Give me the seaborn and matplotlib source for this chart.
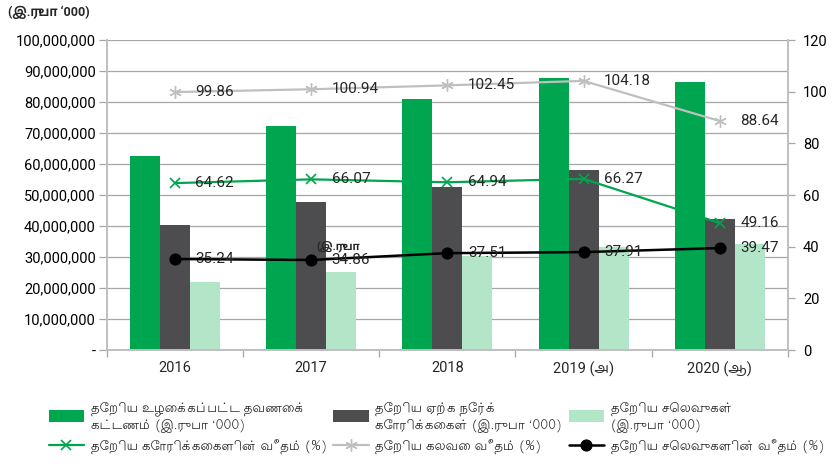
import numpy as np
import pandas as pd
import matplotlib
matplotlib.use("Agg")
import matplotlib.pyplot as plt
from matplotlib.ticker import FuncFormatter, MultipleLocator, FixedLocator
import seaborn as sns

# values (Rs '000)
years = ["2016", "2017", "2018", "2019 (அ)", "2020 (ஆ)"]
net_premium = [62600000, 72300000, 80900000, 87600000, 86300000]
net_claims = [40450000, 47770000, 52540000, 58050000, 42420000]
net_expenses = [22060000, 25200000, 30350000, 33210000, 34060000]

claims_ratio = [64.62, 66.07, 64.94, 66.27, 49.16]
combined_ratio = [99.86, 100.94, 102.45, 104.18, 88.64]
expense_ratio = [35.24, 34.86, 37.51, 37.91, 39.47]

bar_labels = [
    "தேறிய உழைக்கப்பட்ட தவணைக்\nகட்டணம் (இ.ருபா ‘000)",
    "தேறிய ஏற்க நேர்க்\nகோரிக்கைகள் (இ.ருபா ‘000)",
    "தேறிய செலவுகள்\n(இ.ருபா ‘000)",
]
line_labels = [
    "தேறிய கோரிக்கைகளின் வீதம் (%)",
    "தேறிய கலவை வீதம் (%)",
    "தேறிய செலவுகளின் வீதம் (%)",
]
bar_colors = ["#00a64f", "#4d4d4f", "#b3e5c9"]
line_colors = ["#00a64f", "#bfbfbf", "#000000"]

sns.set_theme(style="white")
plt.rcParams["font.family"] = ["Roboto", "Hind Madurai", "DejaVu Sans"]
tamil_font = ["Lohit Tamil", "FreeSerif", "DejaVu Sans"]

df = pd.DataFrame({
    "year": years * 3,
    "value": net_premium + net_claims + net_expenses,
    "series": [bar_labels[0]] * 5 + [bar_labels[1]] * 5 + [bar_labels[2]] * 5,
})

fig = plt.figure(figsize=(8.39, 4.68), dpi=100)
ax = fig.add_axes([0.1275, 0.252, 0.8115, 0.6625])

sns.barplot(data=df, x="year", y="value", hue="series", hue_order=bar_labels,
            palette=bar_colors, width=0.66, saturation=1, ax=ax, linewidth=0)

ax.set_ylim(0, 100000000)
ax.set_xlim(-0.5, 4.5)
ax.yaxis.set_major_locator(MultipleLocator(10000000))
ax.yaxis.set_major_formatter(FuncFormatter(lambda v, p: "-" if v == 0 else f"{v:,.0f}"))
ax.grid(axis="y", color="#a6a6a6", linewidth=0.9)
ax.set_axisbelow(True)
ax.set_xlabel("")
ax.set_ylabel("")
ax.tick_params(axis="y", labelsize=10.5, colors="#a6a6a6", labelcolor="black",
               length=6, width=0.9, left=True, pad=2)
ax.tick_params(axis="x", labelsize=10.5, length=0, pad=8)
ax.xaxis.set_minor_locator(FixedLocator(np.arange(-0.5, 5, 1)))
ax.tick_params(axis="x", which="minor", length=5, width=0.9, color="#a6a6a6", bottom=True)
for side in ["left", "bottom", "right"]:
    ax.spines[side].set_color("#bfbfbf")
    ax.spines[side].set_linewidth(1.2)
ax.spines["top"].set_visible(False)

handles, labels = ax.get_legend_handles_labels()
ax.get_legend().remove()

# ratios on the right axis
ax2 = ax.twinx()
pos = np.arange(len(years))
line_styles = [
    dict(marker="x", markersize=7, markeredgewidth=1.2, linewidth=1.6),
    dict(marker=(6, 2, 0), markersize=9, markeredgewidth=1.0, linewidth=1.6),
    dict(marker="o", markersize=8, linewidth=1.8),
]
for vals, lab, col, st in zip([claims_ratio, combined_ratio, expense_ratio],
                              line_labels, line_colors, line_styles):
    sns.lineplot(x=pos, y=vals, color=col, ax=ax2, label=lab,
                 markeredgecolor=col, markerfacecolor=col, **st)
    for x, v in zip(pos, vals):
        ax2.text(x + 0.15, v, f"{v:.2f}", fontsize=11, va="center", ha="left")
line_handles, line_names = ax2.get_legend_handles_labels()
ax2.get_legend().remove()

ax2.set_ylim(0, 120)
ax2.yaxis.set_major_locator(MultipleLocator(20))
ax2.tick_params(axis="y", labelsize=10.5, colors="#a6a6a6", labelcolor="black",
                length=5, width=0.9, right=True, pad=6)
ax2.set_ylabel("")
for side in ["left", "bottom", "right"]:
    ax2.spines[side].set_color("#bfbfbf")
    ax2.spines[side].set_linewidth(1.2)
ax2.spines["top"].set_visible(False)

fig.text(0.01, 0.974, "(இ.ருபா ‘000)", fontsize=9, fontweight="bold", va="center")
ax.text(1.04, 0.335, "(இ.ருபா", fontsize=8, fontweight="bold", va="center",
        transform=ax.get_xaxis_transform())

order_h = [handles[0], line_handles[0], handles[1], line_handles[1], handles[2], line_handles[2]]
order_l = [labels[0], line_names[0], labels[1], line_names[1], labels[2], line_names[2]]
fig.legend(order_h, order_l, loc="upper left", bbox_to_anchor=(0.058, 0.143), ncol=3,
           frameon=False, prop={"family": tamil_font, "size": 9.5},
           handlelength=2.7, handleheight=1.0, handletextpad=0.5, columnspacing=0.5,
           labelspacing=0.6, borderaxespad=0, borderpad=0)

fig.savefig("out.png", dpi=100)
